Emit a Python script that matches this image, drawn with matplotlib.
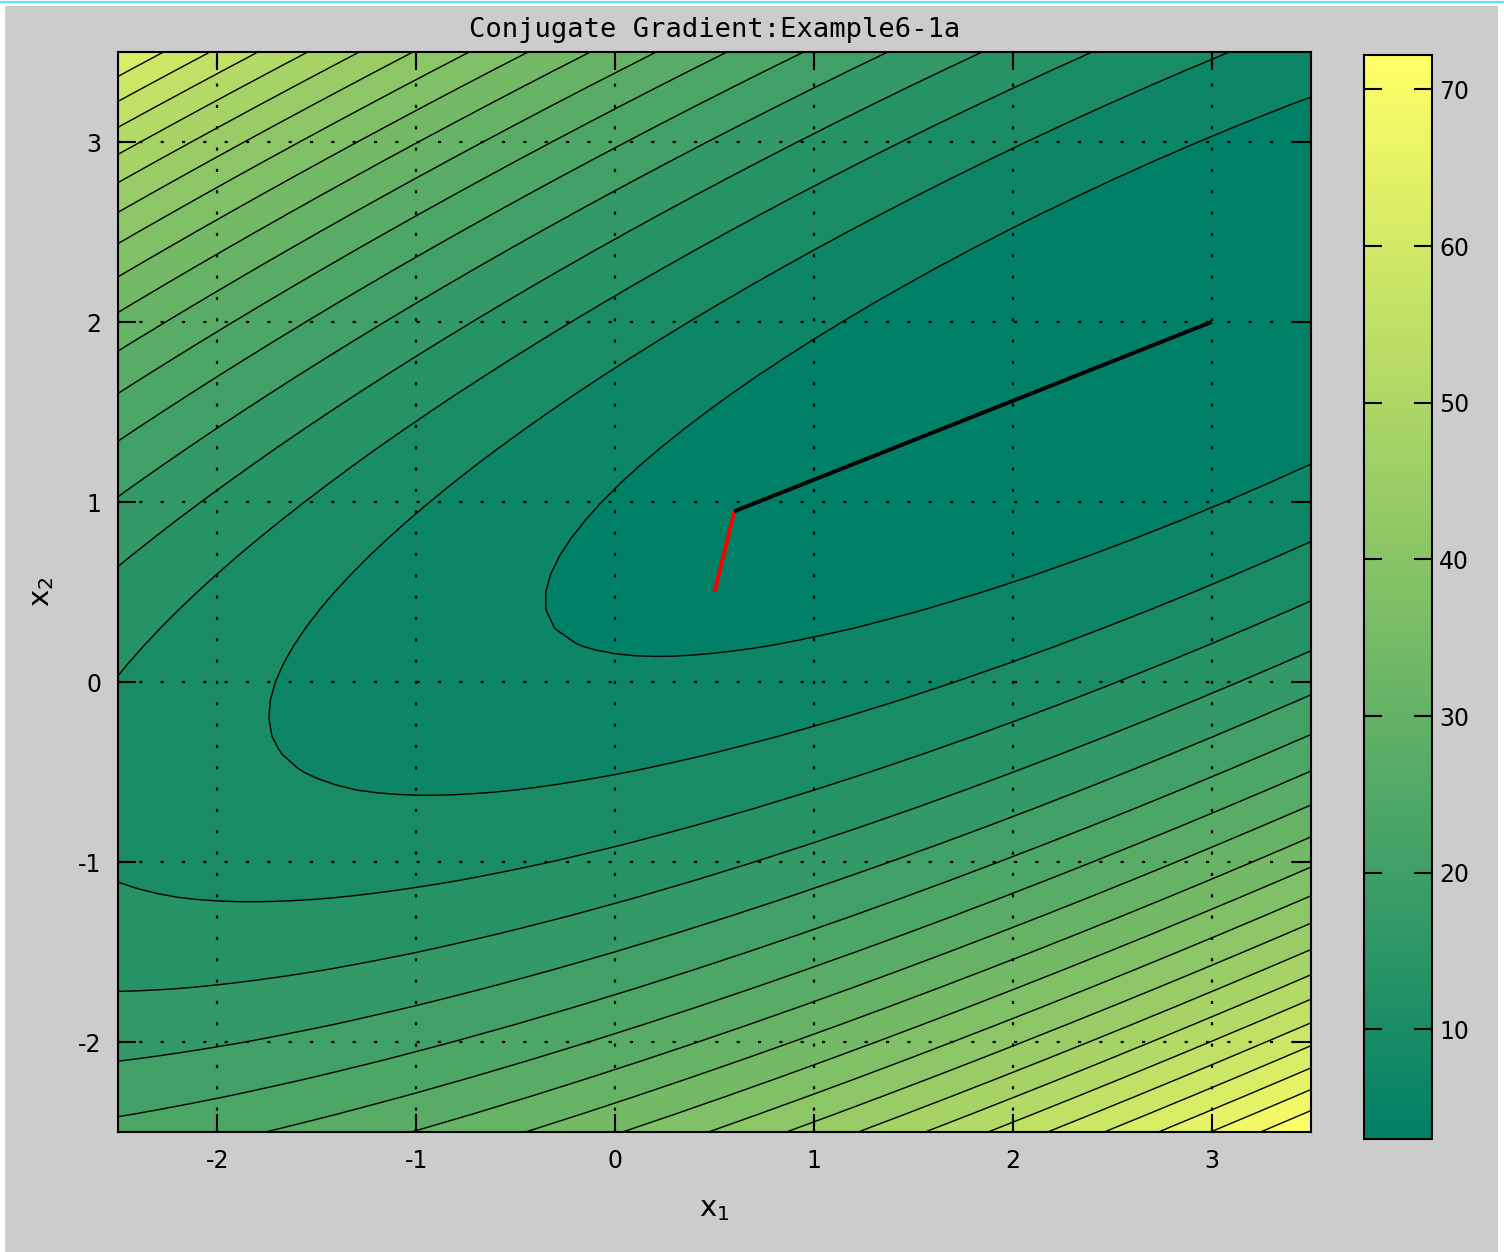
import numpy as np
import matplotlib
matplotlib.use("Agg")
import matplotlib.pyplot as plt
from matplotlib.colors import Normalize
from matplotlib.cm import ScalarMappable
from matplotlib.patches import Rectangle
from matplotlib.lines import Line2D

plt.rcParams["axes.unicode_minus"] = False
plt.rcParams["font.family"] = ["DejaVu Sans"]

# Objective: f(x1, x2) = f0 + (x1 - a*x2)^2 + (x2 - b)^2
f0 = 3.0
a_coef = 1.5
b_coef = 2.0

# Plot window and sampling grid
x1_range = [-2.5, 3.5]
x2_range = [-2.5, 3.5]
grid_step = 0.1

# Contour levels and colour limits
level_min = 3.0
level_max = 72.2
n_levels = 21

# Conjugate-gradient iterates
cg_x1 = [0.5, 0.5997, 3.0]
cg_x2 = [0.5, 0.9484, 2.0]

ticks = [-2, -1, 0, 1, 2, 3]
cbar_ticks = [10, 20, 30, 40, 50, 60, 70]
title = "Conjugate Gradient:Example6-1a"

x1 = np.arange(x1_range[0], x1_range[1] + grid_step / 2, grid_step)
x2 = np.arange(x2_range[0], x2_range[1] + grid_step / 2, grid_step)
X1, X2 = np.meshgrid(x1, x2)
Z = f0 + (X1 - a_coef * X2) ** 2 + (X2 - b_coef) ** 2

levels = np.linspace(level_min, level_max, n_levels)
fill_levels = [level_min - 0.01] + list(levels[1:]) + [max(Z.max(), level_max) + 0.01]
cmap = plt.get_cmap("summer")
norm = Normalize(level_min, level_max)
band_colors = [cmap(norm(v)) for v in [level_min] + list(levels[1:])]

W, H = 1504, 1252
fig = plt.figure(figsize=(W / 100, H / 100), dpi=100, facecolor="white")

# grey window background with a thin cyan line on top
fig.patches.append(Rectangle((5 / W, 0), (1498 - 5) / W, (H - 6) / H,
                             transform=fig.transFigure, facecolor="#cccccc",
                             edgecolor="none", zorder=-10))
fig.lines.append(Line2D([0, 1], [1 - 2 / H, 1 - 2 / H], transform=fig.transFigure,
                        color="#33e5f0", lw=1.2))

ax = fig.add_axes([118 / W, 1 - 1132 / H, (1311 - 118) / W, (1132 - 52) / H])
ax.contourf(X1, X2, Z, levels=fill_levels, colors=band_colors, zorder=1)
ax.contour(X1, X2, Z, levels=levels[1:], colors="k", linewidths=1.0, zorder=2)

ax.plot(cg_x1[:2], cg_x2[:2], color="red", lw=2.8, zorder=5, solid_capstyle="butt")
ax.plot(cg_x1[1:], cg_x2[1:], color="black", lw=2.8, zorder=5, solid_capstyle="butt")

ax.set_xlim(x1_range)
ax.set_ylim(x2_range)
ax.set_xticks(ticks)
ax.set_yticks(ticks)
ax.grid(True, color="k", linestyle=(0, (1.4, 8.2)), linewidth=1.6, zorder=3)
ax.set_axisbelow(False)
ax.tick_params(direction="in", length=13, width=1.5, top=True, right=True,
               labelsize=17, pad=12, colors="k")
for s in ax.spines.values():
    s.set_linewidth(1.5)
    s.set_zorder(6)

ax.set_title(title, fontsize=19.5, family="DejaVu Sans Mono", pad=11)
ax.set_xlabel("x$_1$", fontsize=21, labelpad=16)
ax.set_ylabel("x$_2$", fontsize=21, labelpad=16)

cax = fig.add_axes([1364 / W, 1 - 1139 / H, (1432 - 1364) / W, (1139 - 55) / H])
sm = ScalarMappable(norm=norm, cmap=cmap)
cb = fig.colorbar(sm, cax=cax)
cb.set_ticks(cbar_ticks)
cax.tick_params(direction="in", length=13, width=1.5, left=True, right=True,
                labelsize=17, pad=5)
cb.outline.set_linewidth(1.5)

fig.savefig("out.png", dpi=100, facecolor=fig.get_facecolor())
